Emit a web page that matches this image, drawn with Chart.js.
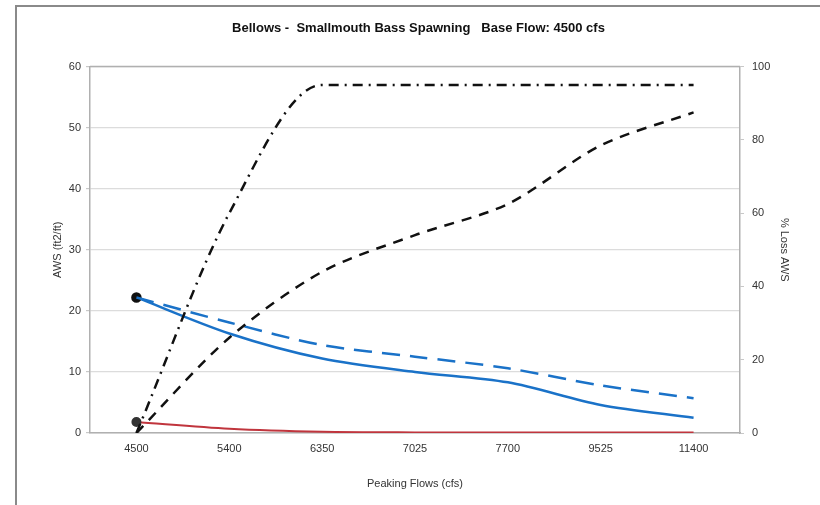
<!DOCTYPE html>
<html>
<head>
<meta charset="utf-8">
<script src="https://cdn.jsdelivr.net/npm/chart.js@4/dist/chart.umd.min.js"></script>
<style>
  html, body { margin: 0; padding: 0; background: #fff; overflow: hidden; }
  #wrap { position: relative; width: 820px; height: 505px; }
  #frame { position: absolute; left: 15px; top: 5px; width: 820px; height: 520px; border: 2px solid #8a8a8a; box-sizing: border-box; }
  canvas { position: absolute; left: 0; top: 0; }
</style>
</head>
<body>
<div id="wrap">
  <div id="frame"></div>
  <canvas id="chart" width="820" height="505"></canvas>
</div>
<script>
// data
const flows = ["4500", "5400", "6350", "7025", "7700", "9525", "11400"];
const awsSolid = [22.2, 16.3, 12.2, 10.0, 8.3, 4.6, 2.5];
const awsDashed = [22.2, 18.1, 14.4, 12.5, 10.6, 7.8, 5.7];
const awsRed = [1.8, 0.7, 0.2, 0.1, 0.1, 0.1, 0.1];
const lossDashDot = [0, 60, 95, 95, 95, 95, 95];
const lossDashed = [0, 26, 44, 54, 62.5, 78.5, 87.5];
const leftTicks = [0, 10, 20, 30, 40, 50, 60];
const rightTicks = [0, 20, 40, 60, 80, 100];

const firstOnly = r => flows.map((f, i) => i === 0 ? r : 0);
const tickFont = { family: "Liberation Sans, Arial", size: 11 };

const ctx = document.getElementById("chart").getContext("2d");

new Chart(ctx, {
  type: "line",
  data: {
    labels: flows,
    datasets: [
      {
        label: "% loss (dash-dot)",
        data: lossDashDot,
        yAxisID: "y2",
        borderColor: "#111",
        borderWidth: 2.5,
        borderDash: [10, 6, 2, 6],
        pointRadius: 0,
        cubicInterpolationMode: "monotone",
        fill: false
      },
      {
        label: "% loss (dashed)",
        data: lossDashed,
        yAxisID: "y2",
        borderColor: "#111",
        borderWidth: 2.5,
        borderDash: [10, 8],
        pointRadius: 0,
        tension: 0.3,
        fill: false
      },
      {
        label: "AWS dashed",
        data: awsDashed,
        yAxisID: "y",
        borderColor: "#1a72c8",
        borderWidth: 2.5,
        borderDash: [18, 10],
        pointRadius: 0,
        tension: 0.3,
        fill: false
      },
      {
        label: "AWS",
        data: awsSolid,
        yAxisID: "y",
        borderColor: "#1a72c8",
        borderWidth: 2.5,
        pointRadius: firstOnly(4),
        pointBackgroundColor: "#111",
        pointBorderColor: "#111",
        tension: 0.3,
        fill: false
      },
      {
        label: "AWS red",
        data: awsRed,
        yAxisID: "y",
        borderColor: "#c0353d",
        borderWidth: 2,
        pointRadius: firstOnly(4),
        pointBackgroundColor: "#333",
        pointBorderColor: "#333",
        tension: 0.3,
        fill: false
      }
    ]
  },
  options: {
    responsive: false,
    animation: false,
    layout: { padding: { left: 17, right: 0, top: 0, bottom: 0 } },
    plugins: {
      legend: { display: false },
      tooltip: { enabled: false },
      title: {
        display: true,
        text: "Bellows -  Smallmouth Bass Spawning   Base Flow: 4500 cfs",
        color: "#111",
        font: { family: "Liberation Sans, Arial", size: 13, weight: "bold" },
        padding: { top: 21, bottom: 30 }
      }
    },
    scales: {
      x: {
        offset: true,
        grid: { display: false, drawTicks: false },
        border: { color: "#b0b0b0", width: 1.5 },
        ticks: { color: "#333", font: tickFont, padding: 9, maxRotation: 0 },
        title: {
          display: true,
          text: "Peaking Flows (cfs)",
          color: "#333",
          font: tickFont,
          padding: { top: 18, bottom: 14 }
        },
        afterFit: s => { s.height = 72; }
      },
      y: {
        position: "left",
        min: 0,
        max: 60,
        afterBuildTicks: s => { s.ticks = leftTicks.map(v => ({ value: v })); },
        grid: { color: "#dcdcdc", lineWidth: 1.2, tickLength: 4, tickColor: "#c8c8c8" },
        border: { color: "#b0b0b0", width: 1.5 },
        ticks: { color: "#333", font: tickFont, padding: 5 },
        title: {
          display: true,
          text: "AWS (ft2/ft)",
          color: "#333",
          font: tickFont,
          padding: { top: 34, bottom: 4 }
        },
        afterFit: s => { s.width = 73; }
      },
      y2: {
        position: "right",
        min: 0,
        max: 100,
        afterBuildTicks: s => { s.ticks = rightTicks.map(v => ({ value: v })); },
        grid: { drawOnChartArea: false, tickLength: 4, tickColor: "#c8c8c8" },
        border: { color: "#b0b0b0", width: 1.5 },
        ticks: { color: "#333", font: tickFont, padding: 8 },
        title: {
          display: true,
          text: "% Loss AWS",
          color: "#333",
          font: tickFont,
          padding: { top: 29, bottom: 4 }
        },
        afterFit: s => { s.width = 80; }
      }
    }
  },
  plugins: [{
    // top edge of the plot box
    id: "topBorder",
    afterDraw(chart) {
      const a = chart.chartArea;
      const c = chart.ctx;
      c.save();
      c.strokeStyle = "#b0b0b0";
      c.lineWidth = 1.5;
      c.beginPath();
      c.moveTo(a.left, a.top);
      c.lineTo(a.right, a.top);
      c.stroke();
      c.restore();
    }
  }]
});
</script>
</body>
</html>
